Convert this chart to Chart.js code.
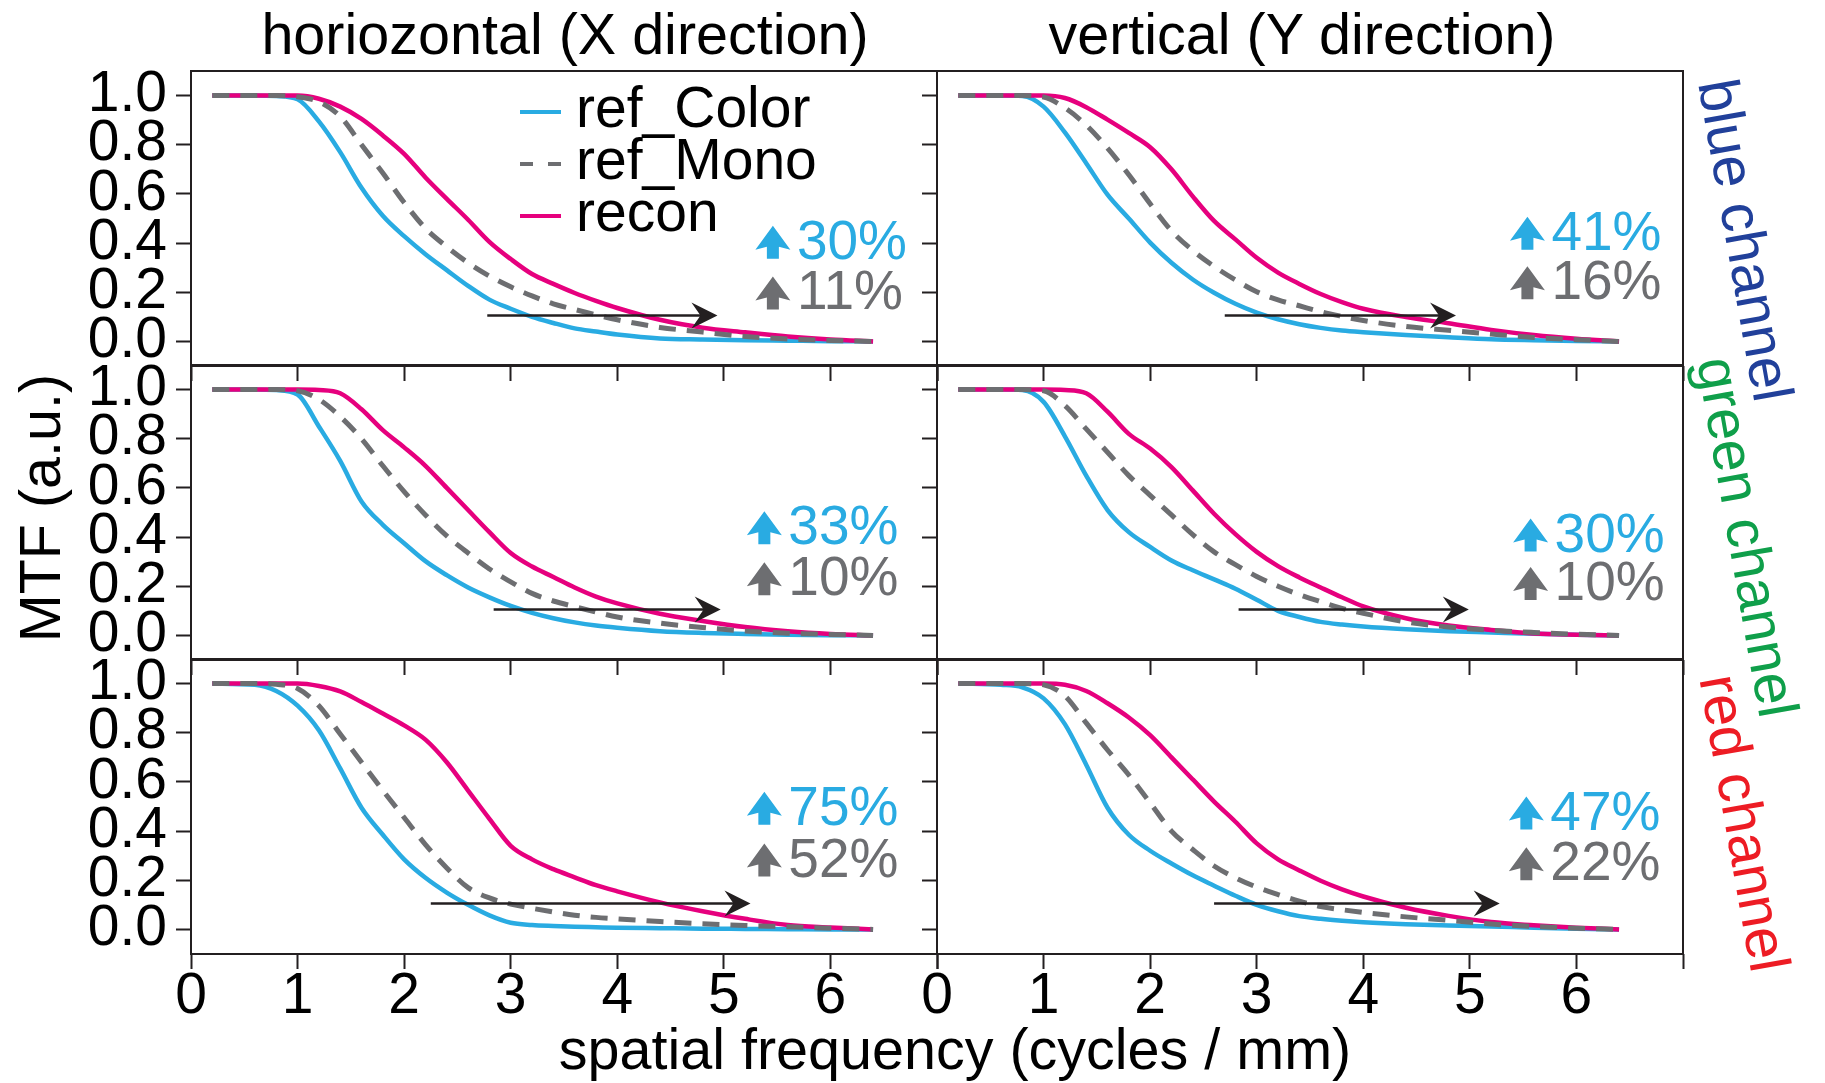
<!DOCTYPE html>
<html>
<head>
<meta charset="utf-8">
<title>MTF comparison</title>
<script src="https://cdn.jsdelivr.net/npm/chart.js@4.4.1/dist/chart.umd.min.js"></script>
<style>
  html, body { margin: 0; padding: 0; background: #fff; }
  #fig { position: relative; width: 1825px; height: 1083px; overflow: hidden;
         font-family: "Liberation Sans", Arial, sans-serif; }
  #fig canvas { position: absolute; }
  .lbl { position: absolute; white-space: nowrap; font-size: 57.5px; line-height: 56px; color: #000; }
</style>
</head>
<body>
<div id="fig">
  <div class="lbl" style="left:565px; top:6px; transform:translateX(-50%);">horiozontal (X direction)</div>
  <div class="lbl" style="left:1302px; top:6px; transform:translateX(-50%);">vertical (Y direction)</div>
  <div class="lbl" style="left:955px; top:1021px; transform:translateX(-50%);">spatial frequency (cycles / mm)</div>
  <div class="lbl" style="left:40px; top:508px; transform:translate(-50%,-50%) rotate(-90deg);">MTF (a.u.)</div>
  <div class="lbl" style="left:1746px; top:240px; color:#21409a; transform:translate(-50%,-50%) rotate(80deg);">blue channel</div>
  <div class="lbl" style="left:1748px; top:537px; color:#0f9f4a; transform:translate(-50%,-50%) rotate(80deg);">green channel</div>
  <div class="lbl" style="left:1745px; top:823px; color:#ed1c24; transform:translate(-50%,-50%) rotate(80deg);">red channel</div>
</div>
<script>
// spatial frequency samples (cycles / mm)
const freq = [0.2, 0.6, 0.8, 1.0, 1.2, 1.4, 1.6, 1.8, 2.0, 2.2, 2.4, 2.6, 2.8, 3.0, 3.2, 3.4, 3.6, 3.8, 4.0, 4.4, 4.8, 5.2, 5.6, 6.0, 6.4];

// blue channel, horizontal
const colorBH = [1, 1, 0.998, 0.985, 0.895, 0.77, 0.625, 0.511, 0.428, 0.355, 0.29, 0.226, 0.17, 0.133, 0.1, 0.075, 0.053, 0.04, 0.028, 0.012, 0.008, 0.005, 0.003, 0.001, 0];
const monoBH  = [1, 1, 1, 0.995, 0.975, 0.915, 0.8, 0.685, 0.565, 0.46, 0.385, 0.32, 0.266, 0.222, 0.185, 0.153, 0.13, 0.108, 0.088, 0.057, 0.038, 0.02, 0.01, 0.004, 0];
const reconBH = [1, 1, 1, 1, 0.987, 0.955, 0.905, 0.838, 0.763, 0.667, 0.58, 0.495, 0.405, 0.335, 0.274, 0.234, 0.197, 0.165, 0.136, 0.088, 0.056, 0.037, 0.02, 0.008, 0];
// blue channel, vertical
const colorBV = [1, 1, 0.998, 0.955, 0.85, 0.725, 0.597, 0.5, 0.402, 0.32, 0.252, 0.198, 0.153, 0.117, 0.09, 0.07, 0.055, 0.044, 0.037, 0.026, 0.017, 0.009, 0.005, 0.002, 0];
const monoBV  = [1, 1, 1, 0.994, 0.95, 0.88, 0.786, 0.678, 0.56, 0.45, 0.37, 0.305, 0.25, 0.202, 0.169, 0.145, 0.121, 0.102, 0.085, 0.061, 0.045, 0.03, 0.016, 0.007, 0];
const reconBV = [1, 1, 1, 1, 0.99, 0.953, 0.902, 0.848, 0.79, 0.7, 0.59, 0.49, 0.415, 0.34, 0.28, 0.234, 0.193, 0.16, 0.133, 0.099, 0.074, 0.047, 0.026, 0.011, 0];
// green channel, horizontal
const colorGH = [1, 1, 0.998, 0.98, 0.85, 0.71, 0.545, 0.45, 0.375, 0.302, 0.245, 0.195, 0.155, 0.12, 0.092, 0.07, 0.053, 0.04, 0.031, 0.017, 0.01, 0.006, 0.003, 0.001, 0];
const monoGH  = [1, 1, 1, 0.995, 0.96, 0.89, 0.8, 0.69, 0.585, 0.49, 0.405, 0.335, 0.27, 0.218, 0.171, 0.14, 0.117, 0.095, 0.075, 0.05, 0.032, 0.018, 0.009, 0.004, 0];
const reconGH = [1, 1, 1, 1, 0.998, 0.985, 0.92, 0.835, 0.765, 0.69, 0.6, 0.51, 0.42, 0.335, 0.28, 0.238, 0.195, 0.158, 0.13, 0.088, 0.059, 0.034, 0.017, 0.006, 0];
// green channel, vertical
const colorGV = [1, 1, 0.998, 0.95, 0.81, 0.65, 0.51, 0.42, 0.36, 0.305, 0.265, 0.228, 0.19, 0.145, 0.1, 0.075, 0.055, 0.044, 0.036, 0.025, 0.017, 0.012, 0.007, 0.003, 0];
const monoGV  = [1, 1, 1, 0.995, 0.935, 0.84, 0.745, 0.65, 0.57, 0.49, 0.41, 0.34, 0.288, 0.24, 0.2, 0.166, 0.137, 0.11, 0.09, 0.055, 0.034, 0.021, 0.012, 0.005, 0];
const reconGV = [1, 1, 1, 1, 0.998, 0.985, 0.91, 0.82, 0.76, 0.685, 0.59, 0.495, 0.412, 0.34, 0.282, 0.236, 0.195, 0.155, 0.118, 0.07, 0.04, 0.022, 0.008, 0.003, 0];
// red channel, horizontal
const colorRH = [1, 0.995, 0.97, 0.91, 0.81, 0.655, 0.495, 0.385, 0.285, 0.21, 0.15, 0.1, 0.057, 0.027, 0.018, 0.014, 0.011, 0.009, 0.007, 0.005, 0.003, 0.002, 0.001, 0, 0];
const monoRH  = [1, 1, 0.997, 0.98, 0.91, 0.795, 0.68, 0.565, 0.455, 0.345, 0.25, 0.17, 0.128, 0.103, 0.086, 0.071, 0.058, 0.049, 0.043, 0.032, 0.023, 0.016, 0.011, 0.005, 0];
const reconRH = [1, 1, 1, 1, 0.99, 0.968, 0.925, 0.878, 0.83, 0.772, 0.68, 0.565, 0.45, 0.34, 0.285, 0.245, 0.212, 0.18, 0.155, 0.11, 0.074, 0.043, 0.018, 0.008, 0];
// red channel, vertical
const colorRV = [1, 0.995, 0.985, 0.94, 0.835, 0.67, 0.495, 0.385, 0.32, 0.268, 0.22, 0.178, 0.137, 0.1, 0.074, 0.054, 0.043, 0.035, 0.029, 0.021, 0.016, 0.012, 0.007, 0.003, 0];
const monoRV  = [1, 1, 1, 0.995, 0.95, 0.84, 0.73, 0.628, 0.515, 0.4, 0.325, 0.258, 0.21, 0.172, 0.142, 0.115, 0.093, 0.08, 0.069, 0.051, 0.037, 0.022, 0.012, 0.005, 0];
const reconRV = [1, 1, 1, 1, 0.995, 0.97, 0.92, 0.862, 0.79, 0.7, 0.61, 0.52, 0.438, 0.35, 0.285, 0.24, 0.198, 0.163, 0.134, 0.088, 0.055, 0.03, 0.017, 0.007, 0];

// MTF gains of recon over the references (%), panel order BH, BV, GH, GV, RH, RV
const gainColor = [30, 41, 33, 30, 75, 47];
const gainMono  = [11, 16, 10, 10, 52, 22];

// frequency shift arrows near MTF = 0.1
const shiftFrom  = [2.78, 2.70, 2.84, 2.83, 2.25, 2.60];
const shiftTo    = [4.94, 4.87, 4.97, 4.99, 5.25, 5.28];
const shiftLevel = [0.105, 0.105, 0.105, 0.105, 0.105, 0.105];

// axis ticks
const xTicks = [0, 1, 2, 3, 4, 5, 6, 7];
const yTicks = [0, 0.2, 0.4, 0.6, 0.8, 1.0];

const seriesNames = ['ref_Color', 'ref_Mono', 'recon'];
const panels = [
  [colorBH, monoBH, reconBH], [colorBV, monoBV, reconBV],
  [colorGH, monoGH, reconGH], [colorGV, monoGV, reconGV],
  [colorRH, monoRH, reconRH], [colorRV, monoRV, reconRV]
];

// ---- styling / layout ----
const INK = '#231f20', CYAN = '#29abe2', GRAY = '#6d6e71', MAGENTA = '#e6007e';
const FONT = '"Liberation Sans", Arial, sans-serif';
Chart.defaults.font.family = FONT;

const PLOT_W = 746, PLOT_H = 295;
const colLeft = [191, 937];
const rowTop = [71, 365, 659];
const M = { l: 130, t: 50, r: 40, b: 120 };

// where the gain badges sit (x of the up-arrow centre, baselines of the two lines)
const badgeSpot = [
  { x: 5.46, c: 0.336, m: 0.13 }, { x: 5.54, c: 0.373, m: 0.172 },
  { x: 5.38, c: 0.371, m: 0.163 }, { x: 5.57, c: 0.341, m: 0.144 },
  { x: 5.38, c: 0.426, m: 0.215 }, { x: 5.53, c: 0.406, m: 0.2 }
];

const framePlugin = {
  id: 'frame',
  afterDraw(chart) {
    const a = chart.chartArea, ctx = chart.ctx;
    ctx.save();
    ctx.strokeStyle = INK; ctx.lineWidth = 2;
    ctx.strokeRect(a.left, a.top, a.right - a.left, a.bottom - a.top);
    ctx.restore();
  }
};

function upArrow(ctx, cx, base, color) {
  ctx.fillStyle = color;
  ctx.beginPath();
  ctx.moveTo(cx, base - 33);
  ctx.lineTo(cx + 17.5, base - 9);
  ctx.lineTo(cx + 6, base - 12);
  ctx.lineTo(cx + 6, base);
  ctx.lineTo(cx - 6, base);
  ctx.lineTo(cx - 6, base - 12);
  ctx.lineTo(cx - 17.5, base - 9);
  ctx.closePath();
  ctx.fill();
}

const notesPlugin = {
  id: 'mtfNotes',
  afterDatasetsDraw(chart, args, o) {
    const ctx = chart.ctx, xs = chart.scales.x, ys = chart.scales.y;
    ctx.save();
    // shift arrow
    const x1 = xs.getPixelForValue(o.from), x2 = xs.getPixelForValue(o.to), yy = ys.getPixelForValue(o.level);
    ctx.strokeStyle = INK; ctx.fillStyle = INK; ctx.lineWidth = 2.5;
    ctx.beginPath(); ctx.moveTo(x1, yy); ctx.lineTo(x2 - 16, yy); ctx.stroke();
    ctx.beginPath();
    ctx.moveTo(x2, yy); ctx.lineTo(x2 - 26, yy - 13); ctx.lineTo(x2 - 17, yy); ctx.lineTo(x2 - 26, yy + 13);
    ctx.closePath(); ctx.fill();
    // gain badges
    const cx = xs.getPixelForValue(o.spot.x);
    ctx.font = '55px ' + FONT; ctx.textAlign = 'left'; ctx.textBaseline = 'alphabetic';
    const bc = ys.getPixelForValue(o.spot.c), bm = ys.getPixelForValue(o.spot.m);
    upArrow(ctx, cx, bc, CYAN); ctx.fillStyle = CYAN; ctx.fillText(o.gainColor + '%', cx + 24, bc);
    upArrow(ctx, cx, bm, GRAY); ctx.fillStyle = GRAY; ctx.fillText(o.gainMono + '%', cx + 24, bm);
    ctx.restore();
  }
};

const keyPlugin = {
  id: 'key',
  afterDraw(chart, args, o) {
    if (!o.show) return;
    const ctx = chart.ctx, a = chart.chartArea;
    ctx.save();
    ctx.font = '57px ' + FONT; ctx.textAlign = 'left'; ctx.textBaseline = 'alphabetic';
    chart.data.datasets.forEach((ds, i) => {
      const ly = a.top + 41 + i * 52;
      ctx.strokeStyle = ds.borderColor; ctx.lineWidth = 4;
      ctx.setLineDash(ds.borderDash ? [13, 15] : []);
      ctx.beginPath(); ctx.moveTo(a.left + 329, ly); ctx.lineTo(a.left + 370, ly); ctx.stroke();
      ctx.setLineDash([]);
      ctx.fillStyle = '#000';
      ctx.fillText(ds.label, a.left + 385, ly + 15);
    });
    ctx.restore();
  }
};

const fig = document.getElementById('fig');
const seriesStyle = [
  { borderColor: CYAN, borderWidth: 4.5, order: 2 },
  { borderColor: GRAY, borderWidth: 5, borderDash: [17, 11], order: 0 },
  { borderColor: MAGENTA, borderWidth: 4.5, order: 1 }
];

panels.forEach((series, p) => {
  const r = Math.floor(p / 2), c = p % 2;
  const cv = document.createElement('canvas');
  cv.width = PLOT_W + M.l + M.r;
  cv.height = PLOT_H + M.t + M.b;
  cv.style.left = (colLeft[c] - M.l) + 'px';
  cv.style.top = (rowTop[r] - M.t) + 'px';
  fig.appendChild(cv);

  const datasets = series.map((vals, k) => Object.assign({
    label: seriesNames[k],
    data: freq.map((f, i) => ({ x: f, y: vals[i] })),
    pointRadius: 0,
    fill: false,
    cubicInterpolationMode: 'monotone'
  }, seriesStyle[k]));

  const tickGrid = { drawOnChartArea: false, drawTicks: true, tickLength: 15, tickWidth: 2, tickColor: INK };

  new Chart(cv, {
    type: 'line',
    data: { datasets },
    options: {
      responsive: false,
      animation: false,
      events: [],
      layout: { padding: { top: M.t, right: M.r, left: 0, bottom: 0 } },
      plugins: {
        legend: { display: false },
        tooltip: { enabled: false },
        mtfNotes: {
          from: shiftFrom[p], to: shiftTo[p], level: shiftLevel[p],
          gainColor: gainColor[p], gainMono: gainMono[p], spot: badgeSpot[p]
        },
        key: { show: p === 0 }
      },
      scales: {
        x: {
          type: 'linear', min: 0, max: 7,
          afterBuildTicks: s => { s.ticks = xTicks.map(v => ({ value: v })); },
          afterFit: s => { s.height = M.b; },
          grid: tickGrid,
          border: { display: false },
          ticks: {
            display: r === 2, autoSkip: false, maxRotation: 0, padding: 0, color: '#000',
            font: { size: 57, lineHeight: 1 },
            callback: v => (v < 7 ? String(v) : '')
          }
        },
        y: {
          type: 'linear', min: -0.1, max: 1.1,
          afterBuildTicks: s => { s.ticks = yTicks.map(v => ({ value: v })); },
          afterFit: s => { s.width = M.l; },
          grid: tickGrid,
          border: { display: false },
          ticks: {
            display: c === 0, autoSkip: false, padding: 9, color: '#000',
            font: { size: 57, lineHeight: 1 },
            callback: v => v.toFixed(1)
          }
        }
      }
    },
    plugins: [framePlugin, notesPlugin, keyPlugin]
  });
});
</script>
</body>
</html>
